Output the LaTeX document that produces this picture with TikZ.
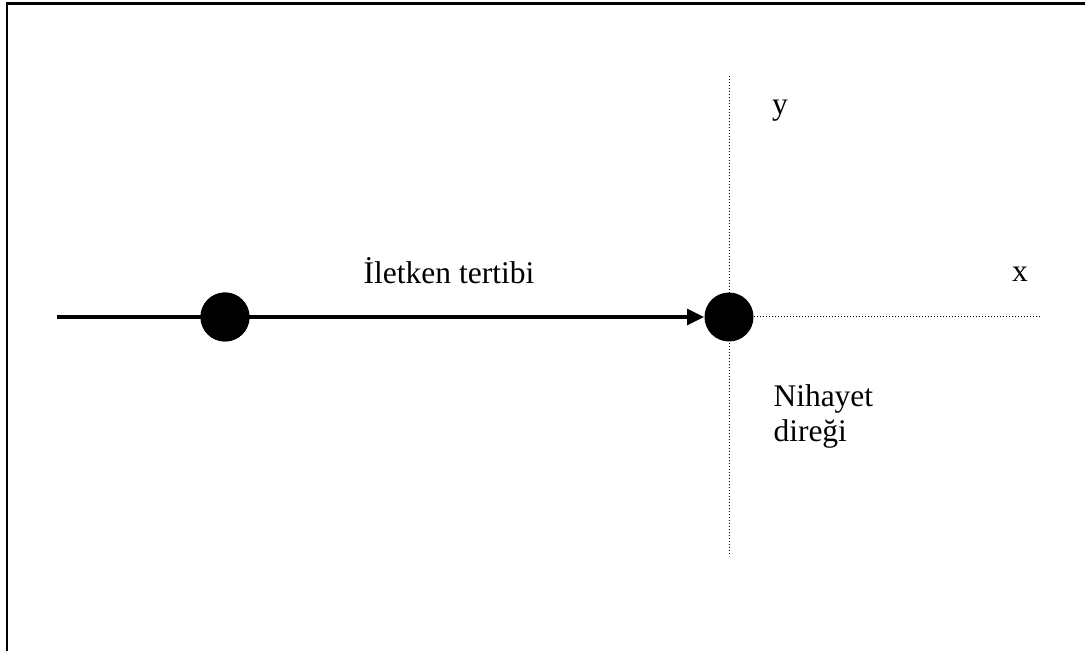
\documentclass[tikz,border=0pt]{standalone}
\usepackage{fontspec}
\setmainfont{Liberation Serif}
\usetikzlibrary{arrows.meta}

\begin{document}
\begin{tikzpicture}[
  x=0.4pt, y=-0.4pt,
  font=\fontsize{12.6}{14}\selectfont,
  dot/.style={circle, fill=black, inner sep=0pt, minimum size=19.6pt},
  axis/.style={line width=0.4pt, dash pattern=on 0.4pt off 0.8pt},
  label/.style={inner sep=0pt}
]
\useasboundingbox (0,0) rectangle (1085,651);

% Frame (top and left edges only)
\draw[line width=1pt] (1085,3.5) -- (7,3.5) -- (7,651);

% Conductor points
\node[dot] (first) at (225,317) {};
\node[dot] (last) at (729,317) {};
\coordinate (start) at (57,317);

% Axes through the end pole
\coordinate (ytop) at (729,76);
\coordinate (ybot) at (729,556);
\coordinate (xend) at (1041,317);
\draw[axis] (ytop) -- (ybot);
\draw[axis] (last.east) -- (xend);

% Conductor arrangement
\draw[line width=1.3pt, -{Triangle[length=6.8pt, width=6.4pt]}] (start) -- (last);
\node[dot] at (first) {};

% Labels
\node[label, anchor=base] (arr) at (449,284) {İletken tertibi};
\node[label, anchor=base] (ylab) at (780,115) {y};
\node[label, anchor=base] (xlab) at (1020,282) {x};
\node[label, anchor=north west, align=left] (pole) at (773,384) {Nihayet\\direği};
\end{tikzpicture}
\end{document}
